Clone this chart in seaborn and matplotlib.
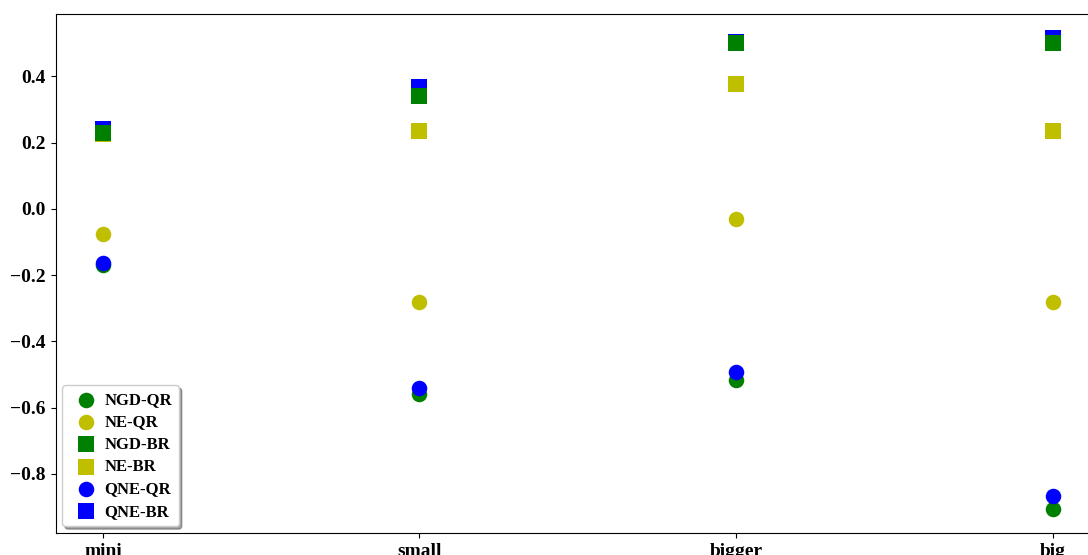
import numpy as np
import matplotlib
matplotlib.use('Agg')
import matplotlib.pyplot as plt
import seaborn as sns

sns.set_style('ticks')
plt.rcParams['font.family'] = ['Liberation Serif', 'DejaVu Serif']
plt.rcParams['font.weight'] = 'bold'
plt.rcParams['text.color'] = 'black'
plt.rcParams['xtick.color'] = 'black'
plt.rcParams['ytick.color'] = 'black'

sizes = ['mini', 'small', 'bigger', 'big']

ngd_qr = [-0.169, -0.558, -0.515, -0.907]
ne_qr = [-0.076, -0.281, -0.030, -0.282]
ngd_br = [0.230, 0.341, 0.501, 0.500]
ne_br = [0.227, 0.236, 0.378, 0.236]
qne_qr = [-0.163, -0.540, -0.492, -0.866]
qne_br = [0.240, 0.368, 0.505, 0.517]

# label, values, colour, marker, zorder (green squares sit on top of blue)
series = [
    ('NGD-QR', ngd_qr, 'g', 'o', 2.1),
    ('NE-QR', ne_qr, 'y', 'o', 2.2),
    ('NGD-BR', ngd_br, 'g', 's', 2.3),
    ('NE-BR', ne_br, 'y', 's', 2.05),
    ('QNE-QR', qne_qr, 'b', 'o', 2.4),
    ('QNE-BR', qne_br, 'b', 's', 2.0),
]

fig = plt.figure(figsize=(10.88, 5.55), dpi=100)
ax = fig.add_axes([55.5 / 1088, 22 / 555, 1044.5 / 1088, 519 / 555])

for name, vals, col, mk, z in series:
    sns.scatterplot(x=sizes, y=vals, color=col, marker=mk, s=125,
                    linewidth=0, label=name, zorder=z, ax=ax)

for sp in ax.spines.values():
    sp.set_color('black')
ax.tick_params(labelsize=14)
ax.legend(loc='lower left', fontsize=12, shadow=True, fancybox=True,
          labelspacing=0.38, handletextpad=0.15, borderaxespad=0.4)

fig.savefig('out.png', dpi=100)
